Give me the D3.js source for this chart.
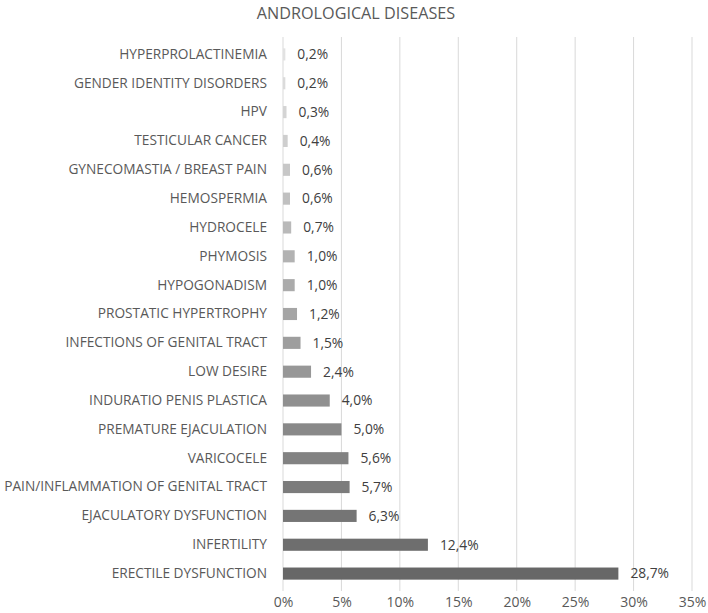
<!DOCTYPE html>
<html>
<head>
<meta charset="utf-8">
<script src="https://cdn.jsdelivr.net/npm/d3@7"></script>
<style>
	body { margin: 0; background: #fff; }
	svg text { font-family: "Open Sans", "Liberation Sans", sans-serif; }
</style>
</head>
<body>
<svg id="chart" width="708" height="613"></svg>
<script>
'use strict';
// Data, top to bottom as in the picture
var categories = [
	'HYPERPROLACTINEMIA',
	'GENDER IDENTITY DISORDERS',
	'HPV',
	'TESTICULAR CANCER',
	'GYNECOMASTIA / BREAST PAIN',
	'HEMOSPERMIA',
	'HYDROCELE',
	'PHYMOSIS',
	'HYPOGONADISM',
	'PROSTATIC HYPERTROPHY',
	'INFECTIONS OF GENITAL TRACT',
	'LOW DESIRE',
	'INDURATIO PENIS PLASTICA',
	'PREMATURE EJACULATION',
	'VARICOCELE',
	'PAIN/INFLAMMATION OF GENITAL TRACT',
	'EJACULATORY DYSFUNCTION',
	'INFERTILITY',
	'ERECTILE DYSFUNCTION'
];
var values = [0.2, 0.2, 0.3, 0.4, 0.6, 0.6, 0.7, 1.0, 1.0, 1.2, 1.5, 2.4, 4.0, 5.0, 5.6, 5.7, 6.3, 12.4, 28.7];
var ticks = [0, 5, 10, 15, 20, 25, 30, 35];

var svg = d3.select('#chart');
var plotLeft = 283, plotRight = 692, plotTop = 40, plotBottom = 588;

var x = d3.scaleLinear().domain([0, 35]).range([plotLeft, plotRight]);
var y = d3.scaleBand().domain(categories).range([plotTop, plotBottom]).paddingInner(0.58).paddingOuter(0.29);
// bars get darker further down the list
var shade = d3.scaleLinear().domain([0, categories.length - 1]).range(['#e2e2e2', '#676767']);

var fmt = function(v){ return v.toFixed(1).replace('.', ',') + '%'; };

svg.append('text')
	.attr('x', 356).attr('y', 19)
	.attr('text-anchor', 'middle')
	.attr('font-size', 16.2)
	.attr('fill', '#595959')
	.text('ANDROLOGICAL DISEASES');

// gridlines
svg.append('g').selectAll('line')
	.data(ticks)
	.enter().append('line')
		.attr('x1', function(d){ return x(d); })
		.attr('x2', function(d){ return x(d); })
		.attr('y1', 37).attr('y2', 591)
		.attr('stroke', '#d9d9d9')
		.attr('stroke-width', 1);

// tick labels
var xAxis = d3.axisBottom(x).tickValues(ticks).tickSize(0).tickPadding(0)
	.tickFormat(function(d){ return d + '%'; });
var gx = svg.append('g').attr('transform', 'translate(0,597)').call(xAxis);
gx.select('.domain').remove();
gx.selectAll('text')
	.attr('font-size', 14)
	.attr('fill', '#595959')
	.attr('font-family', '"Open Sans", sans-serif');

// category labels
var yAxis = d3.axisLeft(y).tickSize(0).tickPadding(0);
var gy = svg.append('g').attr('transform', 'translate(267,0)').call(yAxis);
gy.select('.domain').remove();
gy.selectAll('text')
	.attr('font-size', 13.7)
	.attr('fill', '#595959')
	.attr('font-family', '"Open Sans", sans-serif');

// bars
svg.append('g').selectAll('rect')
	.data(values)
	.enter().append('rect')
		.attr('x', x(0))
		.attr('y', function(d, i){ return y(categories[i]); })
		.attr('width', function(d){ return x(d) - x(0); })
		.attr('height', y.bandwidth())
		.attr('fill', function(d, i){ return shade(i); });

// value labels
svg.append('g').selectAll('text')
	.data(values)
	.enter().append('text')
		.attr('x', function(d){ return x(d) + 12; })
		.attr('y', function(d, i){ return y(categories[i]) + y.bandwidth() / 2; })
		.attr('dy', '0.35em')
		.attr('font-size', 13.8)
		.attr('fill', '#404040')
		.text(fmt);
</script>
</body>
</html>
